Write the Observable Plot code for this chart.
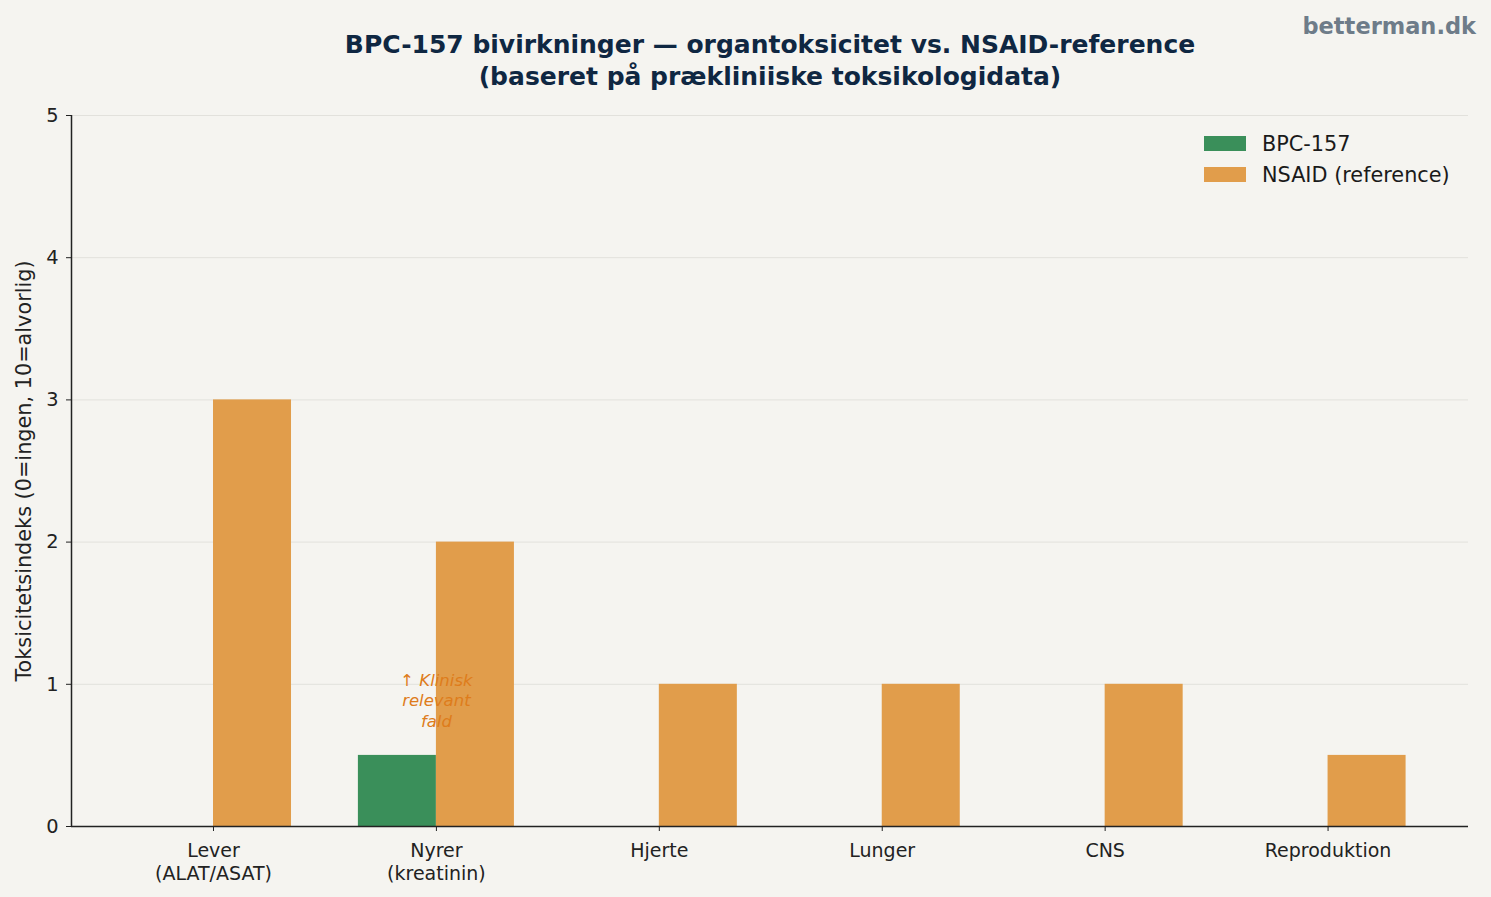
<!DOCTYPE html>
<html>
<head>
<meta charset="utf-8">
<script src="https://cdn.jsdelivr.net/npm/d3@7"></script>
<script src="https://cdn.jsdelivr.net/npm/@observablehq/plot@0.6"></script>
<style>
  html, body { margin: 0; padding: 0; background: #f5f4f0; }
  #wrap { position: relative; width: 1491px; height: 897px; font-family: "DejaVu Sans", sans-serif; }
  #title { position: absolute; left: 0; width: 1540px; top: 29px; text-align: center; font-weight: bold; font-size: 25px; line-height: 32px; color: #0f2742; }
  #brand { position: absolute; right: 15px; top: 13px; font-weight: bold; font-size: 22.5px; line-height: 26px; color: #6e7c89; }
  #legend { position: absolute; left: 1204px; top: 128px; font-size: 20.8px; color: #1a1a1a; }
  .li { display: flex; align-items: center; height: 31px; }
  .sw { width: 42px; height: 15px; margin-right: 16px; }
  svg { position: absolute; left: 0; top: 0; }
</style>
</head>
<body>
<div id="wrap">
  <div id="chart"></div>
  <div id="title">BPC-157 bivirkninger — organtoksicitet vs. NSAID-reference<br>(baseret på prækliniiske toksikologidata)</div>
  <div id="brand">betterman.dk</div>
  <div id="legend"></div>
</div>
<script>
const categories = ["Lever\n(ALAT/ASAT)", "Nyrer\n(kreatinin)", "Hjerte", "Lunger", "CNS", "Reproduktion"];
const bpcValues = [0, 0.5, 0, 0, 0, 0];
const nsaidValues = [3, 2, 1, 1, 1, 0.5];
const seriesNames = ["BPC-157", "NSAID (reference)"];
const seriesColors = ["#3a8f5a", "#e19d4b"];
const yTicks = [0, 1, 2, 3, 4, 5];
const yLabel = "Toksicitetsindeks (0=ingen, 10=alvorlig)";
const annotation = [{cat: 1, value: 0.89, text: "↑ Klinisk\nrelevant\nfald"}];
const xDomain = [-0.637, 5.63];
const barWidth = 0.35;

const rows = [];
categories.forEach((c, i) => {
  rows.push({i, series: seriesNames[0], value: bpcValues[i], x1: i - barWidth, x2: i});
  rows.push({i, series: seriesNames[1], value: nsaidValues[i], x1: i, x2: i + barWidth});
});

const chart = Plot.plot({
  width: 1491,
  height: 897,
  marginTop: 115,
  marginBottom: 71,
  marginLeft: 71,
  marginRight: 23,
  style: { background: "transparent", fontFamily: "DejaVu Sans, sans-serif", fontSize: "19px", color: "#222" },
  x: { domain: xDomain, label: null },
  y: { domain: [0, 5], label: null },
  color: { domain: seriesNames, range: seriesColors },
  marks: [
    Plot.ruleY(yTicks.filter(d => d > 0), { stroke: "#e2e1dc", strokeWidth: 1 }),
    Plot.rectY(rows, { x1: "x1", x2: "x2", y1: 0, y2: "value", fill: "series" }),
    Plot.text(annotation, { x: "cat", y: "value", text: "text", fill: "#de7c1b", fontStyle: "italic", fontSize: 16.5, lineHeight: 1.22, textAnchor: "middle" }),
    Plot.axisX({ ticks: categories.map((c, i) => i), tickFormat: i => categories[i], tickSize: 5, tickPadding: 9, fontSize: 19, lineHeight: 1.21, label: null, stroke: "#222", fill: "#222" }),
    Plot.axisY({ ticks: yTicks, tickFormat: d3.format("d"), tickSize: 5, tickPadding: 8, fontSize: 19.4, label: null, stroke: "#222", fill: "#222" }),
    Plot.ruleY([0], { stroke: "#222", strokeWidth: 1.5 }),
    Plot.ruleX([xDomain[0]], { stroke: "#222", strokeWidth: 1.5 }),
    Plot.text([yLabel], { frameAnchor: "left", rotate: -90, dx: -47, fontSize: 20.8, textAnchor: "middle", fill: "#222" })
  ]
});
document.getElementById("chart").appendChild(chart);

const legend = document.getElementById("legend");
seriesNames.forEach((s, k) => {
  const row = document.createElement("div");
  row.className = "li";
  const sw = document.createElement("div");
  sw.className = "sw";
  sw.style.background = seriesColors[k];
  const t = document.createElement("span");
  t.textContent = s;
  row.appendChild(sw);
  row.appendChild(t);
  legend.appendChild(row);
});
</script>
</body>
</html>
